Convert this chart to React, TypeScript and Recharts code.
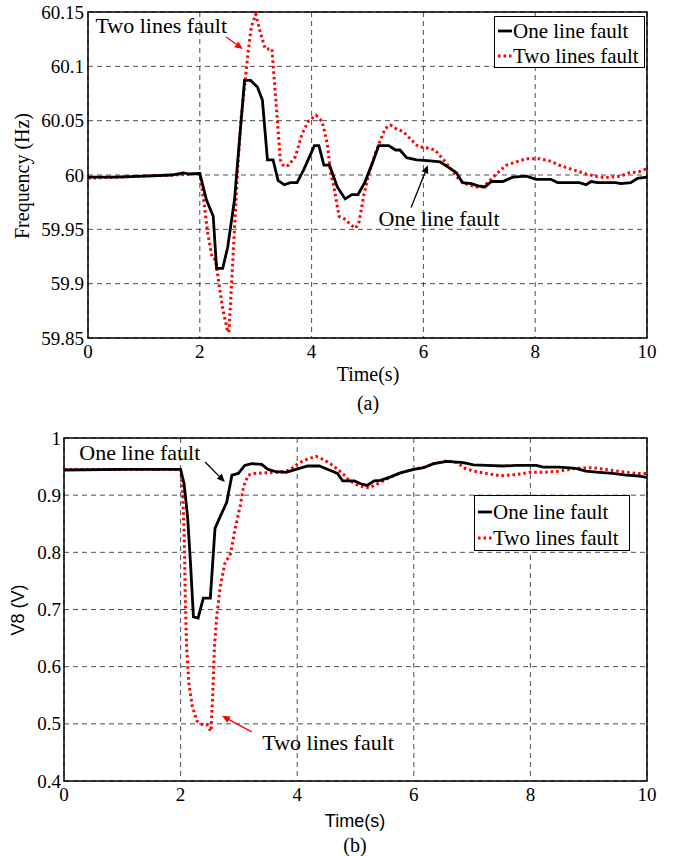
import React from 'react';
import {
  LineChart,
  Line,
  XAxis,
  YAxis,
  CartesianGrid,
  ReferenceArea,
  ReferenceLine,
  ReferenceDot,
} from 'recharts';

// (t, value) samples
const freqOneLine: [number, number][] = [
  [0, 59.998], [0.5, 59.998], [1.0, 59.999], [1.5, 60.0], [1.7, 60.002], [1.8, 60.001], [2.0, 60.0015],
  [2.12, 59.977], [2.24, 59.962], [2.3, 59.914], [2.41, 59.914], [2.5, 59.934], [2.62, 59.977],
  [2.71, 60.032], [2.8, 60.087], [2.91, 60.087], [3.03, 60.081], [3.12, 60.069], [3.21, 60.014],
  [3.31, 60.014], [3.4, 59.995], [3.51, 59.991], [3.62, 59.993], [3.74, 59.993], [3.86, 60.005],
  [4.05, 60.027], [4.13, 60.027], [4.22, 60.009], [4.32, 60.009], [4.46, 59.989], [4.6, 59.978],
  [4.72, 59.982], [4.83, 59.982], [4.95, 59.993], [5.08, 60.01], [5.2, 60.027], [5.38, 60.027],
  [5.5, 60.023], [5.58, 60.023], [5.7, 60.016], [5.88, 60.014], [6.12, 60.013], [6.3, 60.012],
  [6.45, 60.007], [6.59, 60.002], [6.7, 59.993], [6.86, 59.992], [6.98, 59.99], [7.1, 59.989],
  [7.22, 59.994], [7.42, 59.994], [7.6, 59.998], [7.84, 59.999], [8.02, 59.996], [8.28, 59.996],
  [8.4, 59.993], [8.79, 59.993], [8.91, 59.991], [9.0, 59.994], [9.12, 59.993], [9.44, 59.993],
  [9.53, 59.992], [9.71, 59.993], [9.83, 59.997], [10, 59.998],
];

const freqTwoLines: [number, number][] = [
  [0, 59.997], [0.5, 59.998], [1.0, 59.999], [1.5, 60.0], [2.0, 60.001], [2.07, 59.977],
  [2.14, 59.947], [2.22, 59.924], [2.28, 59.922], [2.34, 59.901], [2.41, 59.877], [2.49, 59.858],
  [2.52, 59.855], [2.56, 59.892], [2.62, 59.95], [2.68, 60.008], [2.74, 60.053], [2.8, 60.081],
  [2.86, 60.111], [2.92, 60.136], [3.0, 60.148], [3.09, 60.13], [3.17, 60.116], [3.29, 60.116],
  [3.36, 60.069], [3.44, 60.014], [3.5, 60.008], [3.59, 60.009], [3.71, 60.017], [3.83, 60.038],
  [3.95, 60.05], [4.08, 60.055], [4.19, 60.049], [4.28, 60.029], [4.34, 60.002], [4.4, 59.989],
  [4.49, 59.962], [4.61, 59.959], [4.7, 59.954], [4.79, 59.951], [4.85, 59.957], [4.94, 59.983],
  [5.03, 60.002], [5.14, 60.02], [5.23, 60.032], [5.32, 60.043], [5.41, 60.046], [5.53, 60.042],
  [5.64, 60.04], [5.79, 60.032], [5.91, 60.026], [6.06, 60.025], [6.21, 60.023], [6.36, 60.014],
  [6.5, 60.005], [6.65, 59.995], [6.8, 59.991], [6.95, 59.989], [7.07, 59.989], [7.19, 59.995],
  [7.37, 60.004], [7.48, 60.009], [7.66, 60.012], [7.84, 60.015], [8.08, 60.015], [8.26, 60.013],
  [8.43, 60.009], [8.67, 60.005], [8.91, 60.001], [9.15, 59.998], [9.32, 59.998], [9.53, 59.999],
  [9.68, 60.002], [9.86, 60.003], [10, 60.006],
];

const voltOneLine: [number, number][] = [
  [0, 0.944], [1.0, 0.945], [2.0, 0.945], [2.06, 0.92], [2.12, 0.862], [2.17, 0.781], [2.22, 0.687],
  [2.3, 0.685], [2.39, 0.72], [2.51, 0.72], [2.59, 0.842], [2.69, 0.865], [2.79, 0.887], [2.88, 0.935],
  [2.99, 0.938], [3.1, 0.952], [3.22, 0.955], [3.39, 0.954], [3.5, 0.945], [3.64, 0.941], [3.81, 0.94],
  [3.98, 0.945], [4.18, 0.951], [4.38, 0.951], [4.55, 0.944], [4.69, 0.938], [4.78, 0.925],
  [4.98, 0.925], [5.09, 0.92], [5.2, 0.917], [5.32, 0.925], [5.43, 0.926], [5.6, 0.932], [5.77, 0.939],
  [6.0, 0.945], [6.17, 0.948], [6.34, 0.955], [6.57, 0.959], [6.85, 0.957], [7.02, 0.953],
  [7.25, 0.952], [7.53, 0.951], [7.76, 0.952], [8.1, 0.952], [8.22, 0.949], [8.5, 0.949],
  [8.78, 0.947], [8.95, 0.942], [9.18, 0.94], [9.41, 0.938], [9.64, 0.935], [9.81, 0.934], [10, 0.931],
];

const voltTwoLines: [number, number][] = [
  [0, 0.945], [1.0, 0.945], [2.0, 0.945], [2.03, 0.915], [2.06, 0.839], [2.08, 0.723], [2.1, 0.641],
  [2.14, 0.572], [2.2, 0.531], [2.28, 0.505], [2.37, 0.499], [2.45, 0.499], [2.52, 0.487],
  [2.55, 0.548], [2.58, 0.635], [2.62, 0.688], [2.68, 0.74], [2.76, 0.781], [2.86, 0.798],
  [2.93, 0.839], [3.02, 0.88], [3.08, 0.915], [3.16, 0.935], [3.27, 0.938], [3.47, 0.939], [3.7, 0.94],
  [3.87, 0.944], [4.01, 0.955], [4.15, 0.962], [4.32, 0.968], [4.46, 0.962], [4.61, 0.952],
  [4.78, 0.938], [4.89, 0.926], [5.06, 0.916], [5.23, 0.913], [5.38, 0.92], [5.55, 0.929],
  [5.74, 0.938], [5.94, 0.944], [6.17, 0.949], [6.34, 0.955], [6.57, 0.96], [6.74, 0.957],
  [6.88, 0.947], [7.02, 0.942], [7.25, 0.938], [7.48, 0.934], [7.76, 0.936], [7.99, 0.94],
  [8.22, 0.94], [8.5, 0.942], [8.78, 0.947], [9.06, 0.948], [9.29, 0.945], [9.58, 0.941],
  [9.81, 0.938], [10, 0.938],
];

const timeTicks = [0, 2, 4, 6, 8, 10];
const freqTicks = [59.85, 59.9, 59.95, 60, 60.05, 60.1, 60.15];
const voltTicks = [0.4, 0.5, 0.6, 0.7, 0.8, 0.9, 1];

const ONE_LABEL = 'One line fault';
const TWO_LABEL = 'Two lines fault';

const serif = '"Liberation Serif", "Times New Roman", serif';
const sans = '"Liberation Sans", Arial, sans-serif';
const RED = '#ff0000';

const toRows = (pts: [number, number][]) => pts.map(([t, v]) => ({ t, v }));

// serif tick labels, drawn by hand so the font sticks
const xTick = (p: any) => (
  <text x={p.x} y={p.y} dy="0.71em" textAnchor="middle" fontFamily={serif} fontSize={19} fill="#000">
    {p.payload.value}
  </text>
);
const yTick = (p: any) => (
  <text x={p.x} y={p.y} dy="0.35em" textAnchor="end" fontFamily={serif} fontSize={19} fill="#000">
    {p.payload.value}
  </text>
);

function arrowShape(color: string) {
  return (p: any) => {
    const { x1, y1, x2, y2 } = p;
    const a = Math.atan2(y2 - y1, x2 - x1);
    const len = 8;
    const w = 3.5;
    const bx = x2 - len * Math.cos(a);
    const by = y2 - len * Math.sin(a);
    const pts = [
      `${x2},${y2}`,
      `${bx + w * Math.sin(a)},${by - w * Math.cos(a)}`,
      `${bx - w * Math.sin(a)},${by + w * Math.cos(a)}`,
    ].join(' ');
    return (
      <g>
        <line x1={x1} y1={y1} x2={bx} y2={by} stroke={color} strokeWidth={1.3} />
        <polygon points={pts} fill={color} />
      </g>
    );
  };
}

function textShape(text: string) {
  return (p: any) => (
    <text
      x={p.cx}
      y={p.cy}
      textAnchor="middle"
      dominantBaseline="central"
      fontFamily={serif}
      fontSize={22}
      fill="#000"
    >
      {text}
    </text>
  );
}

function Caption({ x, y, text, font, size = 20, rotate = 0 }: { x: number; y: number; text: string; font: string; size?: number; rotate?: number }) {
  return (
    <div
      style={{
        position: 'absolute',
        left: x,
        top: y,
        transform: `translate(-50%, -50%) rotate(${rotate}deg)`,
        whiteSpace: 'nowrap',
        fontFamily: font,
        fontSize: size,
        lineHeight: 1,
        color: '#000',
      }}
    >
      {text}
    </div>
  );
}

function LegendBox({ left, top, width, height, rows }: { left: number; top: number; width: number; height: number; rows: number[] }) {
  const items = [
    { label: ONE_LABEL, color: '#000', dash: undefined, w: 2.8 },
    { label: TWO_LABEL, color: RED, dash: '2.5 3', w: 3 },
  ];
  return (
    <div
      style={{
        position: 'absolute',
        left,
        top,
        width,
        height,
        border: '1px solid #000',
        background: '#fff',
        boxSizing: 'border-box',
      }}
    >
      {items.map((it, i) => (
        <div
          key={it.label}
          style={{
            position: 'absolute',
            left: 2,
            top: rows[i] - 11,
            height: 22,
            display: 'flex',
            alignItems: 'center',
            whiteSpace: 'nowrap',
          }}
        >
          <svg width={16} height={22}>
            <line x1={1} y1={11} x2={15} y2={11} stroke={it.color} strokeWidth={it.w} strokeDasharray={it.dash} />
          </svg>
          <span style={{ fontFamily: serif, fontSize: 21, lineHeight: 1 }}>{it.label}</span>
        </div>
      ))}
    </div>
  );
}

function FrequencyChart() {
  return (
    <LineChart width={679} height={415} margin={{ top: 12, right: 32, bottom: 0, left: 0 }}>
      <CartesianGrid stroke="#222" strokeWidth={0.8} strokeDasharray="5 4" />
      <XAxis
        type="number"
        dataKey="t"
        domain={[0, 10]}
        ticks={timeTicks}
        height={77}
        axisLine={false}
        tickLine={false}
        tickSize={0}
        tickMargin={7}
        tick={xTick}
        interval={0}
        allowDataOverflow
      />
      <YAxis
        type="number"
        domain={[59.85, 60.15]}
        ticks={freqTicks}
        width={88}
        axisLine={false}
        tickLine={false}
        tickSize={0}
        tickMargin={4}
        tick={yTick}
        interval={0}
        allowDataOverflow
      />
      <ReferenceArea x1={0} x2={10} y1={59.85} y2={60.15} fill="none" stroke="#000" strokeWidth={1.5} fillOpacity={0} />
      <Line
        data={toRows(freqTwoLines)}
        dataKey="v"
        type="linear"
        stroke={RED}
        strokeWidth={3}
        strokeDasharray="2.5 3"
        dot={false}
        isAnimationActive={false}
      />
      <Line
        data={toRows(freqOneLine)}
        dataKey="v"
        type="linear"
        stroke="#000"
        strokeWidth={2.8}
        dot={false}
        isAnimationActive={false}
      />
      <ReferenceLine segment={[{ x: 2.47, y: 60.127 }, { x: 2.77, y: 60.116 }]} shape={arrowShape(RED)} />
      <ReferenceDot x={1.31} y={60.138} r={0} shape={textShape(TWO_LABEL)} />
      <ReferenceLine segment={[{ x: 5.78, y: 59.97 }, { x: 6.08, y: 60.009 }]} shape={arrowShape('#000')} />
      <ReferenceDot x={6.28} y={59.96} r={0} shape={textShape(ONE_LABEL)} />
    </LineChart>
  );
}

function VoltageChart() {
  return (
    <LineChart width={679} height={436} margin={{ top: 18, right: 32, bottom: 0, left: 0 }}>
      <CartesianGrid stroke="#222" strokeWidth={0.8} strokeDasharray="5 4" />
      <XAxis
        type="number"
        dataKey="t"
        domain={[0, 10]}
        ticks={timeTicks}
        height={75}
        axisLine={false}
        tickLine={false}
        tickSize={0}
        tickMargin={7}
        tick={xTick}
        interval={0}
        allowDataOverflow
      />
      <YAxis
        type="number"
        domain={[0.4, 1]}
        ticks={voltTicks}
        width={64}
        axisLine={false}
        tickLine={false}
        tickSize={0}
        tickMargin={3}
        tick={yTick}
        interval={0}
        allowDataOverflow
      />
      <ReferenceArea x1={0} x2={10} y1={0.4} y2={1} fill="none" stroke="#000" strokeWidth={1.5} fillOpacity={0} />
      <Line
        data={toRows(voltTwoLines)}
        dataKey="v"
        type="linear"
        stroke={RED}
        strokeWidth={3}
        strokeDasharray="2.5 3"
        dot={false}
        isAnimationActive={false}
      />
      <Line
        data={toRows(voltOneLine)}
        dataKey="v"
        type="linear"
        stroke="#000"
        strokeWidth={2.8}
        dot={false}
        isAnimationActive={false}
      />
      <ReferenceLine segment={[{ x: 2.42, y: 0.958 }, { x: 2.76, y: 0.923 }]} shape={arrowShape('#000')} />
      <ReferenceDot x={1.3} y={0.974} r={0} shape={textShape(ONE_LABEL)} />
      <ReferenceLine segment={[{ x: 3.22, y: 0.486 }, { x: 2.71, y: 0.514 }]} shape={arrowShape(RED)} />
      <ReferenceDot x={4.53} y={0.467} r={0} shape={textShape(TWO_LABEL)} />
    </LineChart>
  );
}

export default function App() {
  return (
    <div style={{ position: 'absolute', left: 0, top: 0, width: 679, height: 856, background: '#fff', overflow: 'hidden' }}>
      <div style={{ position: 'absolute', left: 0, top: 0 }}>
        <FrequencyChart />
      </div>
      <div style={{ position: 'absolute', left: 0, top: 420 }}>
        <VoltageChart />
      </div>

      <LegendBox left={494} top={16} width={151} height={52} rows={[14, 39]} />
      <LegendBox left={474} top={495} width={156} height={56} rows={[16, 42]} />

      <Caption x={22} y={176} text="Frequency (Hz)" font={serif} rotate={-90} />
      <Caption x={368} y={374} text="Time(s)" font={serif} />
      <Caption x={368} y={403} text="(a)" font={serif} />

      <Caption x={18} y={610} text="V8 (V)" font={sans} size={18} rotate={-90} />
      <Caption x={355} y={821} text="Time(s)" font={sans} size={18} />
      <Caption x={355} y={845} text="(b)" font={serif} />
    </div>
  );
}
